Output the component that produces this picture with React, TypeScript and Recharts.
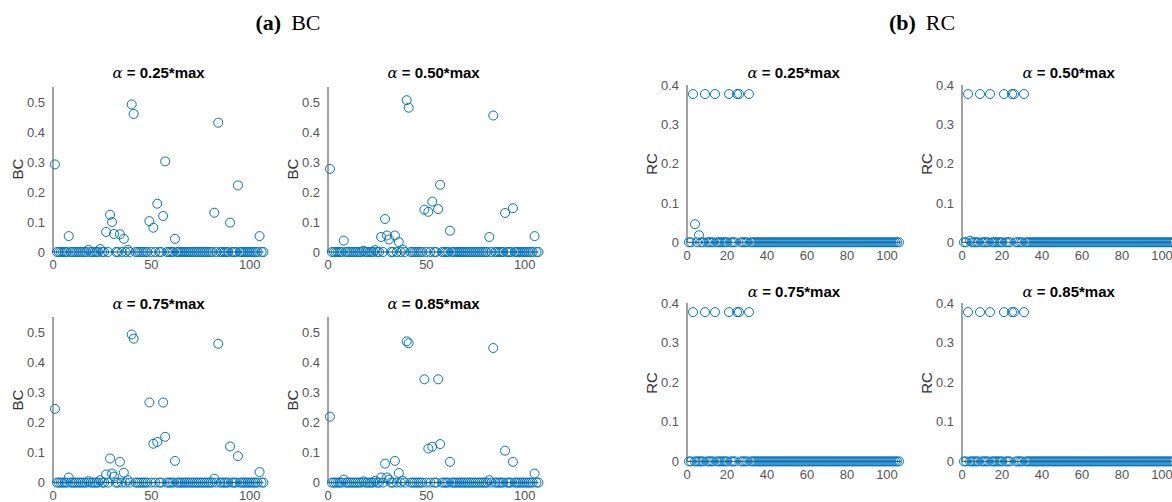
import React from "react"
import { ScatterChart, Scatter, XAxis, YAxis } from "recharts"

// node indices that have a non-zero BC value (all other nodes sit at 0)
const bcIndex = [1, 8, 18, 24, 27, 29, 30, 31, 34, 36, 38, 40, 41, 49, 51, 53, 56, 57, 62, 82, 84, 90, 94, 105]
const bc25 = [0.292, 0.053, 0.007, 0.01, 0.067, 0.124, 0.1, 0.06, 0.059, 0.044, 0.007, 0.492, 0.46, 0.103, 0.081, 0.161, 0.12, 0.302, 0.044, 0.131, 0.431, 0.098, 0.222, 0.053]
const bc50 = [0.277, 0.038, 0.004, 0.006, 0.05, 0.11, 0.055, 0.042, 0.055, 0.033, 0.008, 0.506, 0.481, 0.141, 0.134, 0.168, 0.143, 0.224, 0.071, 0.05, 0.455, 0.13, 0.146, 0.053]
const bc75 = [0.245, 0.017, 0.005, 0.008, 0.027, 0.08, 0.03, 0.02, 0.069, 0.033, 0.008, 0.492, 0.478, 0.266, 0.129, 0.135, 0.266, 0.152, 0.072, 0.013, 0.461, 0.12, 0.088, 0.035]
const bc85 = [0.219, 0.01, 0.004, 0.006, 0.017, 0.063, 0.017, 0.01, 0.072, 0.032, 0.006, 0.469, 0.463, 0.343, 0.113, 0.119, 0.343, 0.128, 0.069, 0.008, 0.447, 0.106, 0.069, 0.03]

// RC: same 0.377 plateau in all four panels
const rcIndex = [3, 4, 6, 9, 14, 21, 25, 26, 31]
const rc25 = [0.377, 0.046, 0.018, 0.377, 0.377, 0.377, 0.377, 0.377, 0.377]
const rc50 = [0.377, 0.004, 0, 0.377, 0.377, 0.377, 0.377, 0.377, 0.377]
const rc75 = [0.377, 0, 0, 0.377, 0.377, 0.377, 0.377, 0.377, 0.377]
const rc85 = [0.377, 0, 0, 0.377, 0.377, 0.377, 0.377, 0.377, 0.377]

const bcCount = 107
const rcCount = 106

const bcYTicks = [0, 0.1, 0.2, 0.3, 0.4, 0.5]
const rcYTicks = [0, 0.1, 0.2, 0.3, 0.4]
const bcXTicks = [0, 50, 100]
const rcXTicks = [0, 20, 40, 60, 80, 100]

const SANS = '"Liberation Sans", Arial, Helvetica, sans-serif'
const BLUE = "#0072BD"

const buildSeries = (n: number, idx: number[], vals: number[]) => {
  const out = []
  for (let i = 1; i <= n; i++) {
    const k = idx.indexOf(i)
    out.push({ x: i, y: k >= 0 ? vals[k] : 0 })
  }
  return out
}

const Ring = (props: any) => {
  const { cx, cy } = props
  if (cx == null || cy == null) return null
  return <circle cx={cx} cy={cy} r={4.5} fill="none" stroke={BLUE} strokeWidth={1} />
}

interface PanelProps {
  left: number
  top: number
  width: number
  height: number
  data: { x: number; y: number }[]
  xMax: number
  yMax: number
  xTicks: number[]
  yTicks: number[]
  title: string
  titleY: number
  ylabel: string
}

const ML = 45
const MR = 10
const MT = 10
const MB = 30

function Panel({ left, top, width, height, data, xMax, yMax, xTicks, yTicks, title, titleY, ylabel }: PanelProps) {
  const axisColor = "#444"
  const tick = { fontSize: 13, fill: "#555", fontFamily: SANS }
  return (
    <>
      <div style={{ position: "absolute", left: left - ML, top: top - MT }}>
        <ScatterChart
          width={width + ML + MR}
          height={height + MT + MB}
          margin={{ top: MT, right: MR, bottom: 0, left: 0 }}
        >
          <XAxis
            type="number"
            dataKey="x"
            domain={[0, xMax]}
            ticks={xTicks}
            height={MB}
            tickLine={false}
            axisLine={{ stroke: axisColor }}
            tick={tick}
          />
          <YAxis
            type="number"
            dataKey="y"
            domain={[0, yMax]}
            ticks={yTicks}
            width={ML}
            tickLine={false}
            axisLine={{ stroke: axisColor }}
            tick={tick}
          />
          <Scatter data={data} shape={Ring} isAnimationActive={false} />
        </ScatterChart>
      </div>
      <div
        style={{
          position: "absolute",
          left: left + width / 2,
          top: titleY,
          transform: "translate(-50%, -50%)",
          whiteSpace: "nowrap",
          fontFamily: SANS,
          fontWeight: "bold",
          fontSize: 15,
          color: "#000",
        }}
      >
        <span style={{ fontFamily: '"DejaVu Serif", serif', fontStyle: "italic", fontWeight: "normal" }}>α</span>
        {" = " + title}
      </div>
      <div
        style={{
          position: "absolute",
          left: left - 36,
          top: top + height / 2,
          transform: "translate(-50%, -50%) rotate(-90deg)",
          whiteSpace: "nowrap",
          fontFamily: SANS,
          fontSize: 15,
          color: "#333",
        }}
      >
        {ylabel}
      </div>
    </>
  )
}

export default function App() {
  const bcW = 210.5
  const rcW = 214
  const panels: PanelProps[] = [
    { left: 53.3, top: 86.7, width: bcW, height: 165, data: buildSeries(bcCount, bcIndex, bc25), xMax: 107, yMax: 0.55, xTicks: bcXTicks, yTicks: bcYTicks, title: "0.25*max", titleY: 73, ylabel: "BC" },
    { left: 328.3, top: 86.7, width: bcW, height: 165, data: buildSeries(bcCount, bcIndex, bc50), xMax: 107, yMax: 0.55, xTicks: bcXTicks, yTicks: bcYTicks, title: "0.50*max", titleY: 73, ylabel: "BC" },
    { left: 53.3, top: 316.7, width: bcW, height: 165.6, data: buildSeries(bcCount, bcIndex, bc75), xMax: 107, yMax: 0.55, xTicks: bcXTicks, yTicks: bcYTicks, title: "0.75*max", titleY: 304, ylabel: "BC" },
    { left: 328.3, top: 316.7, width: bcW, height: 165.6, data: buildSeries(bcCount, bcIndex, bc85), xMax: 107, yMax: 0.55, xTicks: bcXTicks, yTicks: bcYTicks, title: "0.85*max", titleY: 304, ylabel: "BC" },
    { left: 686.7, top: 85, width: rcW, height: 157.3, data: buildSeries(rcCount, rcIndex, rc25), xMax: 107, yMax: 0.4, xTicks: rcXTicks, yTicks: rcYTicks, title: "0.25*max", titleY: 72.5, ylabel: "RC" },
    { left: 961.7, top: 85, width: rcW, height: 157.3, data: buildSeries(rcCount, rcIndex, rc50), xMax: 107, yMax: 0.4, xTicks: rcXTicks, yTicks: rcYTicks, title: "0.50*max", titleY: 72.5, ylabel: "RC" },
    { left: 687, top: 303.3, width: rcW, height: 158.4, data: buildSeries(rcCount, rcIndex, rc75), xMax: 107, yMax: 0.4, xTicks: rcXTicks, yTicks: rcYTicks, title: "0.75*max", titleY: 292, ylabel: "RC" },
    { left: 961.7, top: 303.3, width: rcW, height: 158.4, data: buildSeries(rcCount, rcIndex, rc85), xMax: 107, yMax: 0.4, xTicks: rcXTicks, yTicks: rcYTicks, title: "0.85*max", titleY: 292, ylabel: "RC" },
  ]

  const header = (bold: string, rest: string, cx: number) => (
    <div
      style={{
        position: "absolute",
        left: cx,
        top: 23,
        transform: "translate(-50%, -50%)",
        whiteSpace: "nowrap",
        fontFamily: '"Liberation Serif", "Times New Roman", serif',
        fontSize: 22,
        color: "#000",
      }}
    >
      <span style={{ fontWeight: "bold" }}>{bold}</span>
      <span style={{ marginLeft: 10 }}>{rest}</span>
    </div>
  )

  return (
    <div
      style={{
        position: "absolute",
        left: 0,
        top: 0,
        width: 1172,
        height: 502,
        overflow: "hidden",
        background: "#fff",
      }}
    >
      {header("(a)", "BC", 288)}
      {header("(b)", "RC", 922)}
      {panels.map((p, i) => (
        <Panel key={i} {...p} />
      ))}
    </div>
  )
}
